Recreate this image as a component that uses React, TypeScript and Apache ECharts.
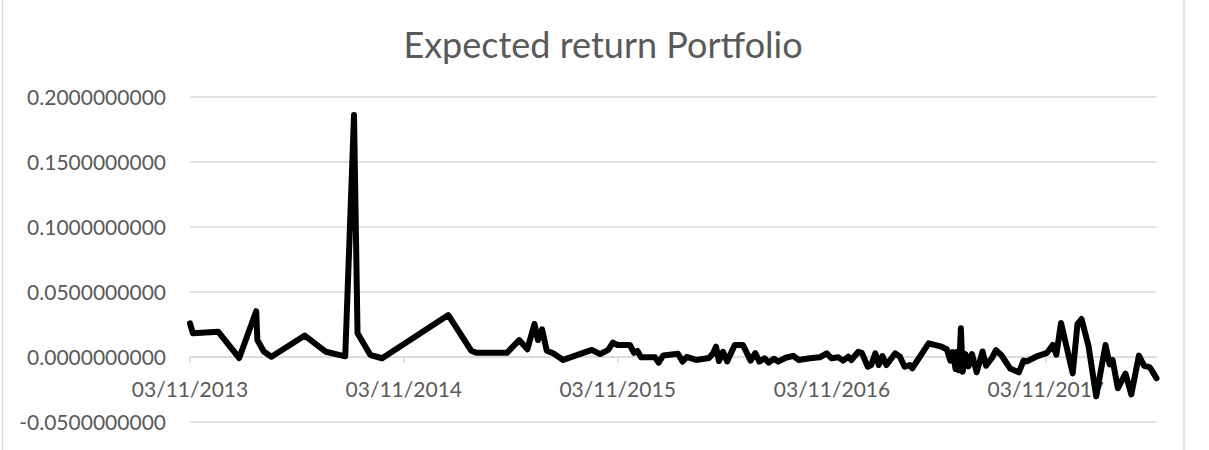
import React, { useEffect, useRef } from "react";
import * as echarts from "echarts";

// Days since 03/11/2013 (first observation) for each point
const dayOffsets = [
  0, 5, 48, 84, 113, 115, 126, 139, 196, 232,
  265, 280, 286, 308, 328, 441, 480, 489, 541, 562,
  576, 588, 594, 601, 609, 620, 637, 686, 700, 714,
  722, 730, 751, 758, 764, 770, 794, 800, 808, 833,
  841, 848, 864, 886, 893, 898, 903, 910, 917, 930,
  944, 957, 965, 972, 981, 988, 997, 1004, 1017, 1030,
  1039, 1058, 1075, 1087, 1095, 1107, 1115, 1124, 1129, 1141,
  1147, 1157, 1163, 1170, 1176, 1182, 1189, 1204, 1212, 1220,
  1229, 1233, 1261, 1283, 1292, 1298, 1302, 1307, 1310, 1313,
  1316, 1319, 1324, 1329, 1335, 1343, 1353, 1359, 1369, 1376,
  1385, 1400, 1415, 1423, 1429, 1447, 1463, 1473, 1479, 1487,
  1507, 1515, 1522, 1534, 1547, 1563, 1570, 1575, 1584, 1597,
  1607, 1620, 1629, 1638, 1642, 1650,
];

// Expected return of the portfolio
const expectedReturn = [
  0.0257, 0.018, 0.0192, -0.001, 0.035, 0.0128, 0.004, 0.0, 0.0163, 0.0038,
  0.0003, 0.186, 0.018, 0.0013, -0.0012, 0.032, 0.0046, 0.003, 0.003, 0.0128,
  0.0057, 0.0252, 0.0128, 0.021, 0.0046, 0.0026, -0.0025, 0.0052, 0.002, 0.0052,
  0.0108, 0.009, 0.009, 0.003, 0.0045, -0.0005, -0.0005, -0.0046, 0.001, 0.0023,
  -0.0038, -0.0002, -0.0025, -0.001, 0.0026, 0.0077, -0.0034, 0.0038, -0.0036, 0.009,
  0.009, -0.003, 0.0028, -0.0038, -0.0012, -0.0046, -0.0016, -0.0038, -0.0008, 0.0007,
  -0.0025, -0.0012, -0.0005, 0.0026, -0.0012, -0.0005, -0.003, 0.0, -0.0025, 0.0038,
  0.003, -0.0077, -0.0064, 0.0026, -0.0064, 0.0005, -0.0064, 0.0026, 0.0, -0.0077,
  -0.0064, -0.0089, 0.0103, 0.0077, 0.0057, -0.003, 0.0035, -0.0095, 0.0038, -0.0105,
  0.0218, -0.0115, 0.002, -0.0075, 0.002, -0.012, 0.004, -0.007, -0.001, 0.005,
  0.0013, -0.009, -0.012, -0.003, -0.0035, 0.0005, 0.003, 0.009, 0.0015, 0.026,
  -0.0128, 0.025, 0.029, 0.008, -0.0305, 0.009, -0.006, -0.0025, -0.0243, -0.013,
  -0.029, 0.0008, -0.007, -0.008, -0.0105, -0.0166,
];

// X tick positions (days since 03/11/2013) and their labels
const xTickOffsets = [0, 365, 730, 1096, 1461];
const xTickLabels = ["03/11/2013", "03/11/2014", "03/11/2015", "03/11/2016", "03/11/2017"];

const titleText = "Expected return Portfolio";
const yMin = -0.05;
const yMax = 0.2;
const yStep = 0.05;

const FONT = "Lato, 'Open Sans', sans-serif";
const GREY_TEXT = "#595959";
const GREY_LINE = "#d9d9d9";

const GRID_TOP = 96.7;
const GRID_BOTTOM_Y = 421.7;

export default function App() {
  const ref = useRef<HTMLDivElement>(null);

  useEffect(() => {
    if (!ref.current) return;
    const chart = echarts.init(ref.current, undefined, { renderer: "svg" });
    const data = dayOffsets.map((d, i) => [d, expectedReturn[i]]);
    const xMax = dayOffsets[dayOffsets.length - 1];
    // the category axis crosses the value axis at zero
    const zeroShift = ((0 - yMin) / (yMax - yMin)) * (GRID_BOTTOM_Y - GRID_TOP);

    chart.setOption({
      animation: false,
      title: {
        text: titleText,
        left: 598,
        top: 21,
        textAlign: "center",
        textStyle: {
          fontFamily: FONT,
          fontSize: 36,
          fontWeight: "normal",
          color: GREY_TEXT,
        },
      },
      graphic: [
        {
          type: "rect",
          shape: { x: 2.5, y: -10, width: 1181.5, height: 470 },
          style: { fill: "none", stroke: GREY_LINE, lineWidth: 1.5 },
          silent: true,
        },
      ],
      grid: {
        left: 190,
        right: 1209 - 1156.5,
        top: GRID_TOP,
        bottom: 450 - GRID_BOTTOM_Y,
        containLabel: false,
        outerBoundsMode: "none",
      },
      xAxis: {
        type: "value",
        min: 0,
        max: xMax,
        offset: -zeroShift,
        splitLine: { show: false },
        axisLine: { show: true, onZero: false, lineStyle: { color: GREY_LINE, width: 1.5 } },
        axisTick: {
          show: true,
          length: 6,
          lineStyle: { color: GREY_LINE, width: 1.5 },
          customValues: xTickOffsets,
        },
        axisLabel: {
          customValues: xTickOffsets,
          margin: 21,
          fontFamily: FONT,
          fontSize: 21,
          color: GREY_TEXT,
          formatter: (v: number) => {
            const i = xTickOffsets.indexOf(Math.round(v));
            return i >= 0 ? xTickLabels[i] : "";
          },
        },
      },
      yAxis: {
        type: "value",
        min: yMin,
        max: yMax,
        interval: yStep,
        axisLine: { show: false, onZero: false },
        axisTick: { show: false },
        splitLine: { show: true, lineStyle: { color: GREY_LINE, width: 1.5 } },
        axisLabel: {
          margin: 24,
          fontFamily: FONT,
          fontSize: 21,
          color: GREY_TEXT,
          formatter: (v: number) => v.toFixed(10),
        },
      },
      series: [
        {
          type: "line",
          data,
          showSymbol: false,
          symbol: "none",
          lineStyle: { color: "#000000", width: 6, join: "round", cap: "round" },
          silent: true,
        },
      ],
    });

    return () => chart.dispose();
  }, []);

  return (
    <div
      ref={ref}
      style={{ position: "fixed", left: 0, top: 0, width: 1209, height: 450, background: "#ffffff" }}
    />
  );
}
